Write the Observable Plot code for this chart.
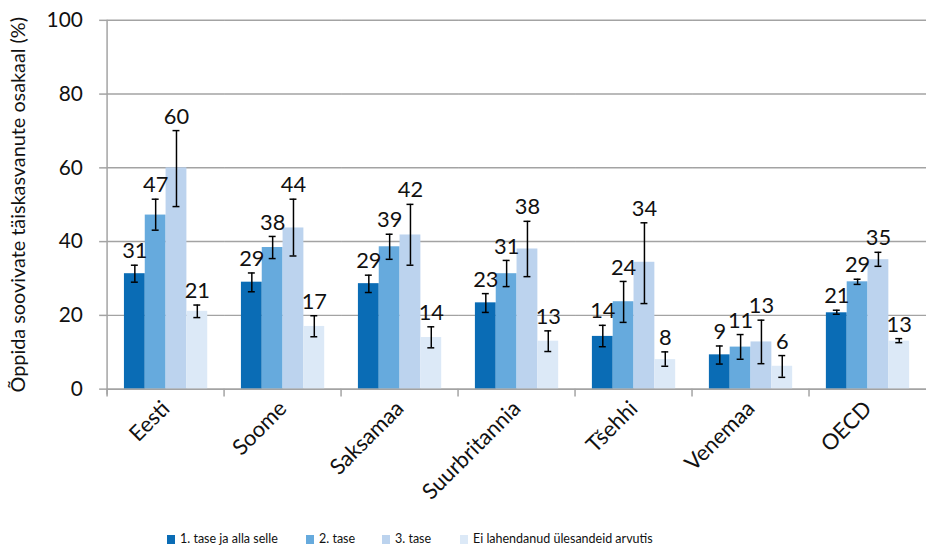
<!DOCTYPE html>
<html><head><meta charset="utf-8">
<script src="https://cdn.jsdelivr.net/npm/d3@7"></script>
<script src="https://cdn.jsdelivr.net/npm/@observablehq/plot@0.6"></script>
<style>
html,body{margin:0;padding:0;overflow:hidden;background:#fff;width:928px;height:547px}
#chart svg{display:block}
.legend{display:flex;align-items:center;margin-left:167px;margin-top:15px;font-family:Lato,sans-serif;font-size:12.5px;color:#111;line-height:16px}
.legend .item{display:flex;align-items:center}
.legend .sw{width:8px;height:9px;margin-right:5px;margin-top:2px}
</style></head><body><div id="chart"></div><script>
const countries = ["Eesti","Soome","Saksamaa","Suurbritannia","Tšehhi","Venemaa","OECD"];
const series = ["1. tase ja alla selle","2. tase","3. tase","Ei lahendanud ülesandeid arvutis"];
const colors = ["#0a6cb5","#66aadd","#bcd3ee","#dce9f7"];
const level1   = [31.3, 29.0, 28.6, 23.4, 14.3, 9.3, 20.7];
const level1Lo = [29.0, 26.4, 26.2, 20.8, 11.5, 6.8, 20.3];
const level1Hi = [33.6, 31.5, 30.9, 25.9, 17.3, 11.7, 21.4];
const level2   = [47.2, 38.4, 38.6, 31.3, 23.7, 11.4, 29.1];
const level2Lo = [43.1, 35.4, 35.2, 27.8, 18.1, 8.1, 28.4];
const level2Hi = [51.5, 41.4, 42.0, 34.9, 29.2, 14.8, 29.8];
const level3   = [60.0, 43.7, 41.8, 38.0, 34.4, 12.8, 35.1];
const level3Lo = [49.5, 36.1, 33.6, 30.5, 23.2, 6.9, 33.3];
const level3Hi = [70.1, 51.5, 50.1, 45.5, 45.1, 18.7, 37.1];
const noComp   = [21.1, 17.0, 14.0, 13.0, 8.0, 6.2, 13.0];
const noCompLo = [19.4, 14.2, 11.2, 10.2, 6.2, 3.2, 12.6];
const noCompHi = [22.8, 19.9, 16.9, 15.8, 10.1, 9.1, 13.7];
const yTicks = [0, 20, 40, 60, 80, 100];
const yTitle = "Õppida soovivate täiskasvanute osakaal (%)";

const valueSets = [[level1, level1Lo, level1Hi],[level2, level2Lo, level2Hi],[level3, level3Lo, level3Hi],[noComp, noCompLo, noCompHi]];
const rows = [];
countries.forEach((c, i) => {
  series.forEach((s, j) => {
    const [v, lo, hi] = valueSets[j];
    rows.push({country: c, series: s, value: v[i], lo: lo[i], hi: hi[i]});
  });
});

const gray = "#a3a3a3";
const plot = Plot.plot({
  width: 936, height: 520,
  marginTop: 20, marginBottom: 128, marginLeft: 105, marginRight: 0,
  style: {fontFamily: "Lato, sans-serif", color: "#111", background: "white"},
  fx: {domain: countries, padding: 0, label: null},
  x: {domain: series, paddingInner: 0, paddingOuter: 0.76, axis: null},
  y: {domain: [0, 100]},
  color: {domain: series, range: colors},
  marks: [
    Plot.gridY(yTicks, {stroke: gray, strokeOpacity: 1, strokeWidth: 1.5}),
    Plot.barY(rows, {fx: "country", x: "series", y: "value", fill: "series"}),
    Plot.ruleY([0], {stroke: gray, strokeWidth: 1.5}),
    Plot.ruleX(rows, {fx: "country", x: "series", y1: "lo", y2: "hi", stroke: "#000", strokeWidth: 1.5}),
    Plot.tickY(rows, {fx: "country", x: "series", y: "lo", stroke: "#000", strokeWidth: 1.5, insetLeft: 7, insetRight: 7}),
    Plot.tickY(rows, {fx: "country", x: "series", y: "hi", stroke: "#000", strokeWidth: 1.5, insetLeft: 7, insetRight: 7}),
    Plot.text(rows, {fx: "country", x: "series", y: "hi", text: d => String(Math.round(d.value)), dy: -14, fontSize: 22, fill: "#111"}),
    Plot.axisY(yTicks, {tickSize: 8, tickPadding: 17, fontSize: 21, stroke: gray, strokeWidth: 1.5, fill: "#111",
      label: null}),
    Plot.text([yTitle], {frameAnchor: "left", textAnchor: "middle", rotate: -90, dx: -90, fontSize: 20, fill: "#111", facet: "exclude", facetAnchor: "left"}),
    Plot.axisFx({anchor: "bottom", tickSize: 0, tickRotate: -45, fontSize: 22, tickPadding: 16, fill: "#111", label: null})
  ]
});

// y-axis line and category boundary ticks, from the plot's own scales
const fxS = plot.scale("fx"), yS = plot.scale("y");
const svg = d3.select(plot);
const y0 = yS.apply(0), yTop = yS.apply(100);
const x0 = fxS.apply(countries[0]);
const g = svg.append("g").attr("stroke", gray).attr("stroke-width", 1.5);
g.append("line").attr("x1", x0).attr("x2", x0).attr("y1", yTop).attr("y2", y0 + 6);
countries.forEach(c => {
  const x = fxS.apply(c);
  g.append("line").attr("x1", x).attr("x2", x).attr("y1", y0).attr("y2", y0 + 8);
});

document.getElementById("chart").appendChild(plot);

const legendWidths = [139, 76, 78, null];
const legend = d3.select("body").append("div").attr("class", "legend");
series.forEach((s, j) => {
  const it = legend.append("div").attr("class", "item");
  if (legendWidths[j]) it.style("width", legendWidths[j] + "px");
  it.append("div").attr("class", "sw").style("background", colors[j]);
  it.append("span").text(s);
});
</script></body></html>
